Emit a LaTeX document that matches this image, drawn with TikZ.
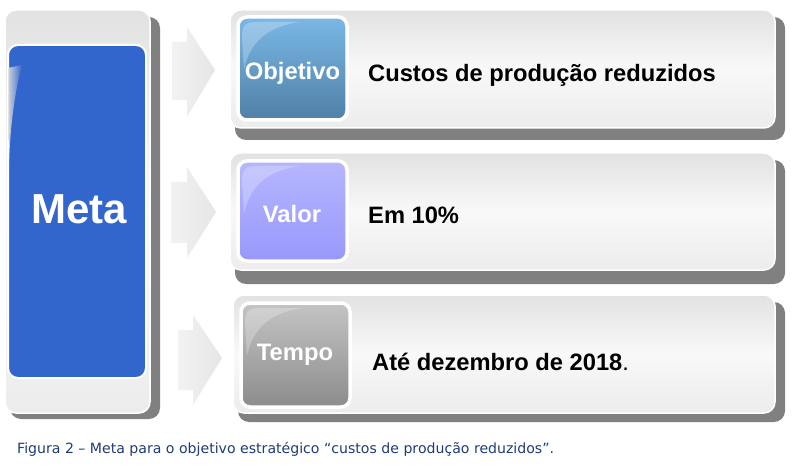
\documentclass[tikz,border=0pt]{standalone}
\usepackage{fontspec}
\setmainfont{Liberation Sans}
\newfontfamily\capfont{DejaVu Sans}
\definecolor{metablue}{RGB}{51,102,204}
\definecolor{shadowgray}{RGB}{128,128,128}
\definecolor{boxtop}{RGB}{226,226,226}
\definecolor{boxbot}{RGB}{236,236,236}
\definecolor{objtop}{RGB}{122,184,230}
\definecolor{objbot}{RGB}{80,128,166}
\definecolor{valtop}{RGB}{182,182,255}
\definecolor{valbot}{RGB}{152,152,252}
\definecolor{temtop}{RGB}{196,196,196}
\definecolor{tembot}{RGB}{140,140,140}
\definecolor{captionblue}{RGB}{31,60,120}
\tikzset{
  x=1pt,y=-1pt,
  shadowbox/.style={fill=shadowgray,rounded corners=11pt},
  panel/.style={top color=boxtop,bottom color=boxbot,middle color=white!95!gray,draw=white,line width=1.5pt,rounded corners=11pt},
  square/.style={draw=white,line width=3.5pt,rounded corners=9pt},
  arrowshape/.style={left color=white!90!gray,right color=white!80!gray},
  tag/.style={text=white,font=\bfseries\fontsize{23.8}{26}\selectfont,inner sep=0pt},
  maintext/.style={text=black,font=\bfseries\fontsize{23.7}{26}\selectfont,anchor=west,inner sep=0pt},
  gloss/.style={fill=white,fill opacity=0.25},
}
\begin{document}
\begin{tikzpicture}
\useasboundingbox (0,0) rectangle (796,468);
\fill[white] (0,0) rectangle (796,468);
% Meta column
\path[shadowbox] (10,17) rectangle (160,419);
\path[panel] (5,10) rectangle (150,413);
\path[fill=metablue,draw=white,line width=2pt,rounded corners=10pt] (8,45) rectangle (146,378);
\path[left color=white!75!gray,right color=metablue,fill opacity=0.9] (8,68) -- (22,65) .. controls (14,95) and (10,130) .. (9,165) -- cycle;
\node[text=white,font=\bfseries\fontsize{42}{45}\selectfont,inner sep=0pt] (meta) at (79,209) {Meta};
% arrows
\path[arrowshape] (172,42) -- (187,42) -- (187,27) -- (215,70) -- (187,117) -- (187,100) -- (172,100) -- cycle;
\path[arrowshape] (171,182) -- (187,182) -- (187,167) -- (216,212) -- (187,258) -- (187,243) -- (171,243) -- cycle;
\path[arrowshape] (178,330) -- (193,330) -- (193,315) -- (222,358) -- (193,405) -- (193,390) -- (178,390) -- cycle;
% row 1
\path[shadowbox] (235,17) rectangle (785,140);
\path[panel] (230,10) rectangle (775,128);
\path[square,top color=objtop,bottom color=objbot] (238,17) rectangle (347,120);
\path[gloss] (242,38) .. controls (242,24) and (246,22) .. (258,22) -- (300,22) .. controls (270,26) and (250,40) .. (244,70) -- cycle;
\node[tag] (obj) at (292.5,73) {Objetivo};
\node[maintext] (t1) at (368,75) {Custos de produção reduzidos};
% row 2
\path[shadowbox] (235,160) rectangle (785,284);
\path[panel] (230,153) rectangle (775,270);
\path[square,top color=valtop,bottom color=valbot] (238,161) rectangle (347,261);
\path[gloss] (242,182) .. controls (242,168) and (246,166) .. (258,166) -- (300,166) .. controls (270,170) and (250,184) .. (244,214) -- cycle;
\node[tag] (val) at (292,214) {Valor};
\node[maintext] (t2) at (368,215) {Em 10\%};
% row 3
\path[shadowbox] (238,302) rectangle (785,422);
\path[panel] (233,295) rectangle (775,413);
\path[square,top color=temtop,bottom color=tembot] (241,303) rectangle (350,407);
\path[gloss] (245,324) .. controls (245,310) and (249,308) .. (261,308) -- (303,308) .. controls (273,312) and (253,326) .. (247,356) -- cycle;
\node[tag] (tem) at (295,355) {Tempo};
\node[maintext] (t3) at (372,362) {Até dezembro de 2018\mdseries.};
% caption
\node[anchor=west,inner sep=0pt,text=captionblue,font=\capfont\fontsize{14.1}{16}\selectfont] (cap) at (17,449) {Figura 2 – Meta para o objetivo estratégico “custos de produção reduzidos”.};
\end{tikzpicture}
\end{document}
